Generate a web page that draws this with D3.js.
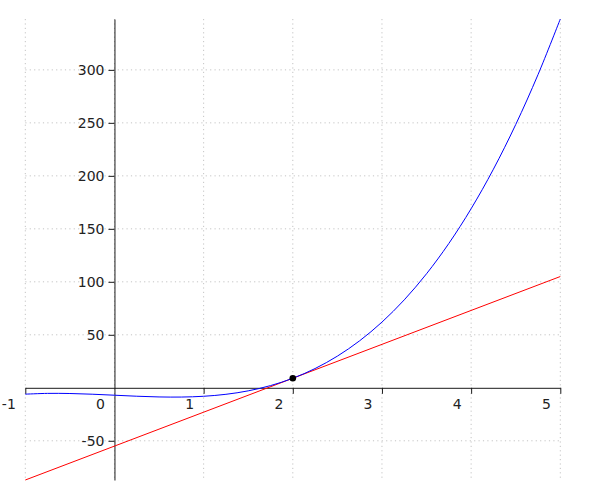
<!DOCTYPE html>
<html>
<head>
<meta charset="utf-8">
<script src="https://cdn.jsdelivr.net/npm/d3@7"></script>
<style>
  body { margin: 0; background: #fff; }
  svg { display: block; }
</style>
</head>
<body>
<script>
var w = 600;
var h = 500;

// Values
var curveX = [-1, -0.75, -0.5, -0.25, 0, 0.25, 0.5, 0.75, 1, 1.25, 1.5, 1.75, 2,
              2.25, 2.5, 2.75, 3, 3.25, 3.5, 3.75, 4, 4.25, 4.5, 4.75, 5];
var curveY = [-6, -5.27, -5.38, -6.05, -7, -7.95, -8.63, -8.73, -8, -6.14, -2.88, 2.08, 9,
              18.17, 29.88, 44.39, 62, 82.98, 107.63, 136.2, 169, 206.3, 248.38, 295.5, 348];
var lineX = [-1, 5];
var lineY = [-87, 105];
var pointX = [2];
var pointY = [9];
var xTicks = [-1, 0, 1, 2, 3, 4, 5];
var yTicks = [-50, 50, 100, 150, 200, 250, 300];

var svg = d3.select("body")
    .append("svg")
    .attr("width", w)
    .attr("height", h);

// Scales
var x = d3.scaleLinear().domain([-1, 5]).range([25.3, 560.3]);
var y = d3.scaleLinear().domain([-87, 348]).range([480, 19]);

var grid = "#c4c4c4";

// Grid lines
svg.selectAll("line.vgrid")
    .data(xTicks)
    .enter().append("line")
    .attr("class", "vgrid")
    .attr("x1", function(d) { return x(d); })
    .attr("x2", function(d) { return x(d); })
    .attr("y1", y.range()[1])
    .attr("y2", y.range()[0])
    .attr("stroke", grid)
    .attr("stroke-width", 1)
    .attr("stroke-dasharray", "1.2,3.2");

svg.selectAll("line.hgrid")
    .data(yTicks)
    .enter().append("line")
    .attr("class", "hgrid")
    .attr("x1", x.range()[0])
    .attr("x2", x.range()[1])
    .attr("y1", function(d) { return y(d); })
    .attr("y2", function(d) { return y(d); })
    .attr("stroke", grid)
    .attr("stroke-width", 1)
    .attr("stroke-dasharray", "1.2,3.2");

// Axes crossing at the origin
var fmt = function(d) { return String(d); };
var xAxis = d3.axisBottom(x).tickValues(xTicks).tickSize(6).tickSizeOuter(0).tickFormat(fmt);
var yAxis = d3.axisLeft(y).tickValues(yTicks).tickSize(6).tickSizeOuter(0).tickFormat(fmt);

var gx = svg.append("g")
    .attr("transform", "translate(0," + y(0) + ")")
    .call(xAxis);
var gy = svg.append("g")
    .attr("transform", "translate(" + x(0) + ",0)")
    .call(yAxis);

[gx, gy].forEach(function(g) {
    g.select(".domain").attr("stroke", "#1a1a1a");
    g.selectAll(".tick line").attr("stroke", "#1a1a1a");
    g.selectAll("text")
        .attr("fill", "#222")
        .style("font-family", "DejaVu Sans")
        .style("font-size", "14px");
});

// x labels sit to the left of their ticks
gx.selectAll(".tick text")
    .attr("text-anchor", "end")
    .attr("x", -10)
    .attr("y", 11)
    .attr("dy", "0.71em");
gx.selectAll(".tick").filter(function(d) { return d === 0; }).select("line").remove();

gy.selectAll(".tick text").attr("x", -10);

// Tangent line
var lineData = lineX.map(function(d, i) { return [d, lineY[i]]; });
svg.append("path")
    .datum(lineData)
    .attr("fill", "none")
    .attr("stroke", "#ff0000")
    .attr("stroke-width", 1)
    .attr("d", d3.line().x(function(d) { return x(d[0]); }).y(function(d) { return y(d[1]); }));

// Curve
var curveData = curveX.map(function(d, i) { return [d, curveY[i]]; });
svg.append("path")
    .datum(curveData)
    .attr("fill", "none")
    .attr("stroke", "#0000ff")
    .attr("stroke-width", 1)
    .attr("d", d3.line()
        .curve(d3.curveCatmullRom)
        .x(function(d) { return x(d[0]); })
        .y(function(d) { return y(d[1]); }));

// Point of tangency
svg.selectAll("circle.pt")
    .data(pointX)
    .enter().append("circle")
    .attr("class", "pt")
    .attr("cx", function(d) { return x(d); })
    .attr("cy", function(d, i) { return y(pointY[i]); })
    .attr("r", 3.3)
    .attr("fill", "#000");
</script>
</body>
</html>
